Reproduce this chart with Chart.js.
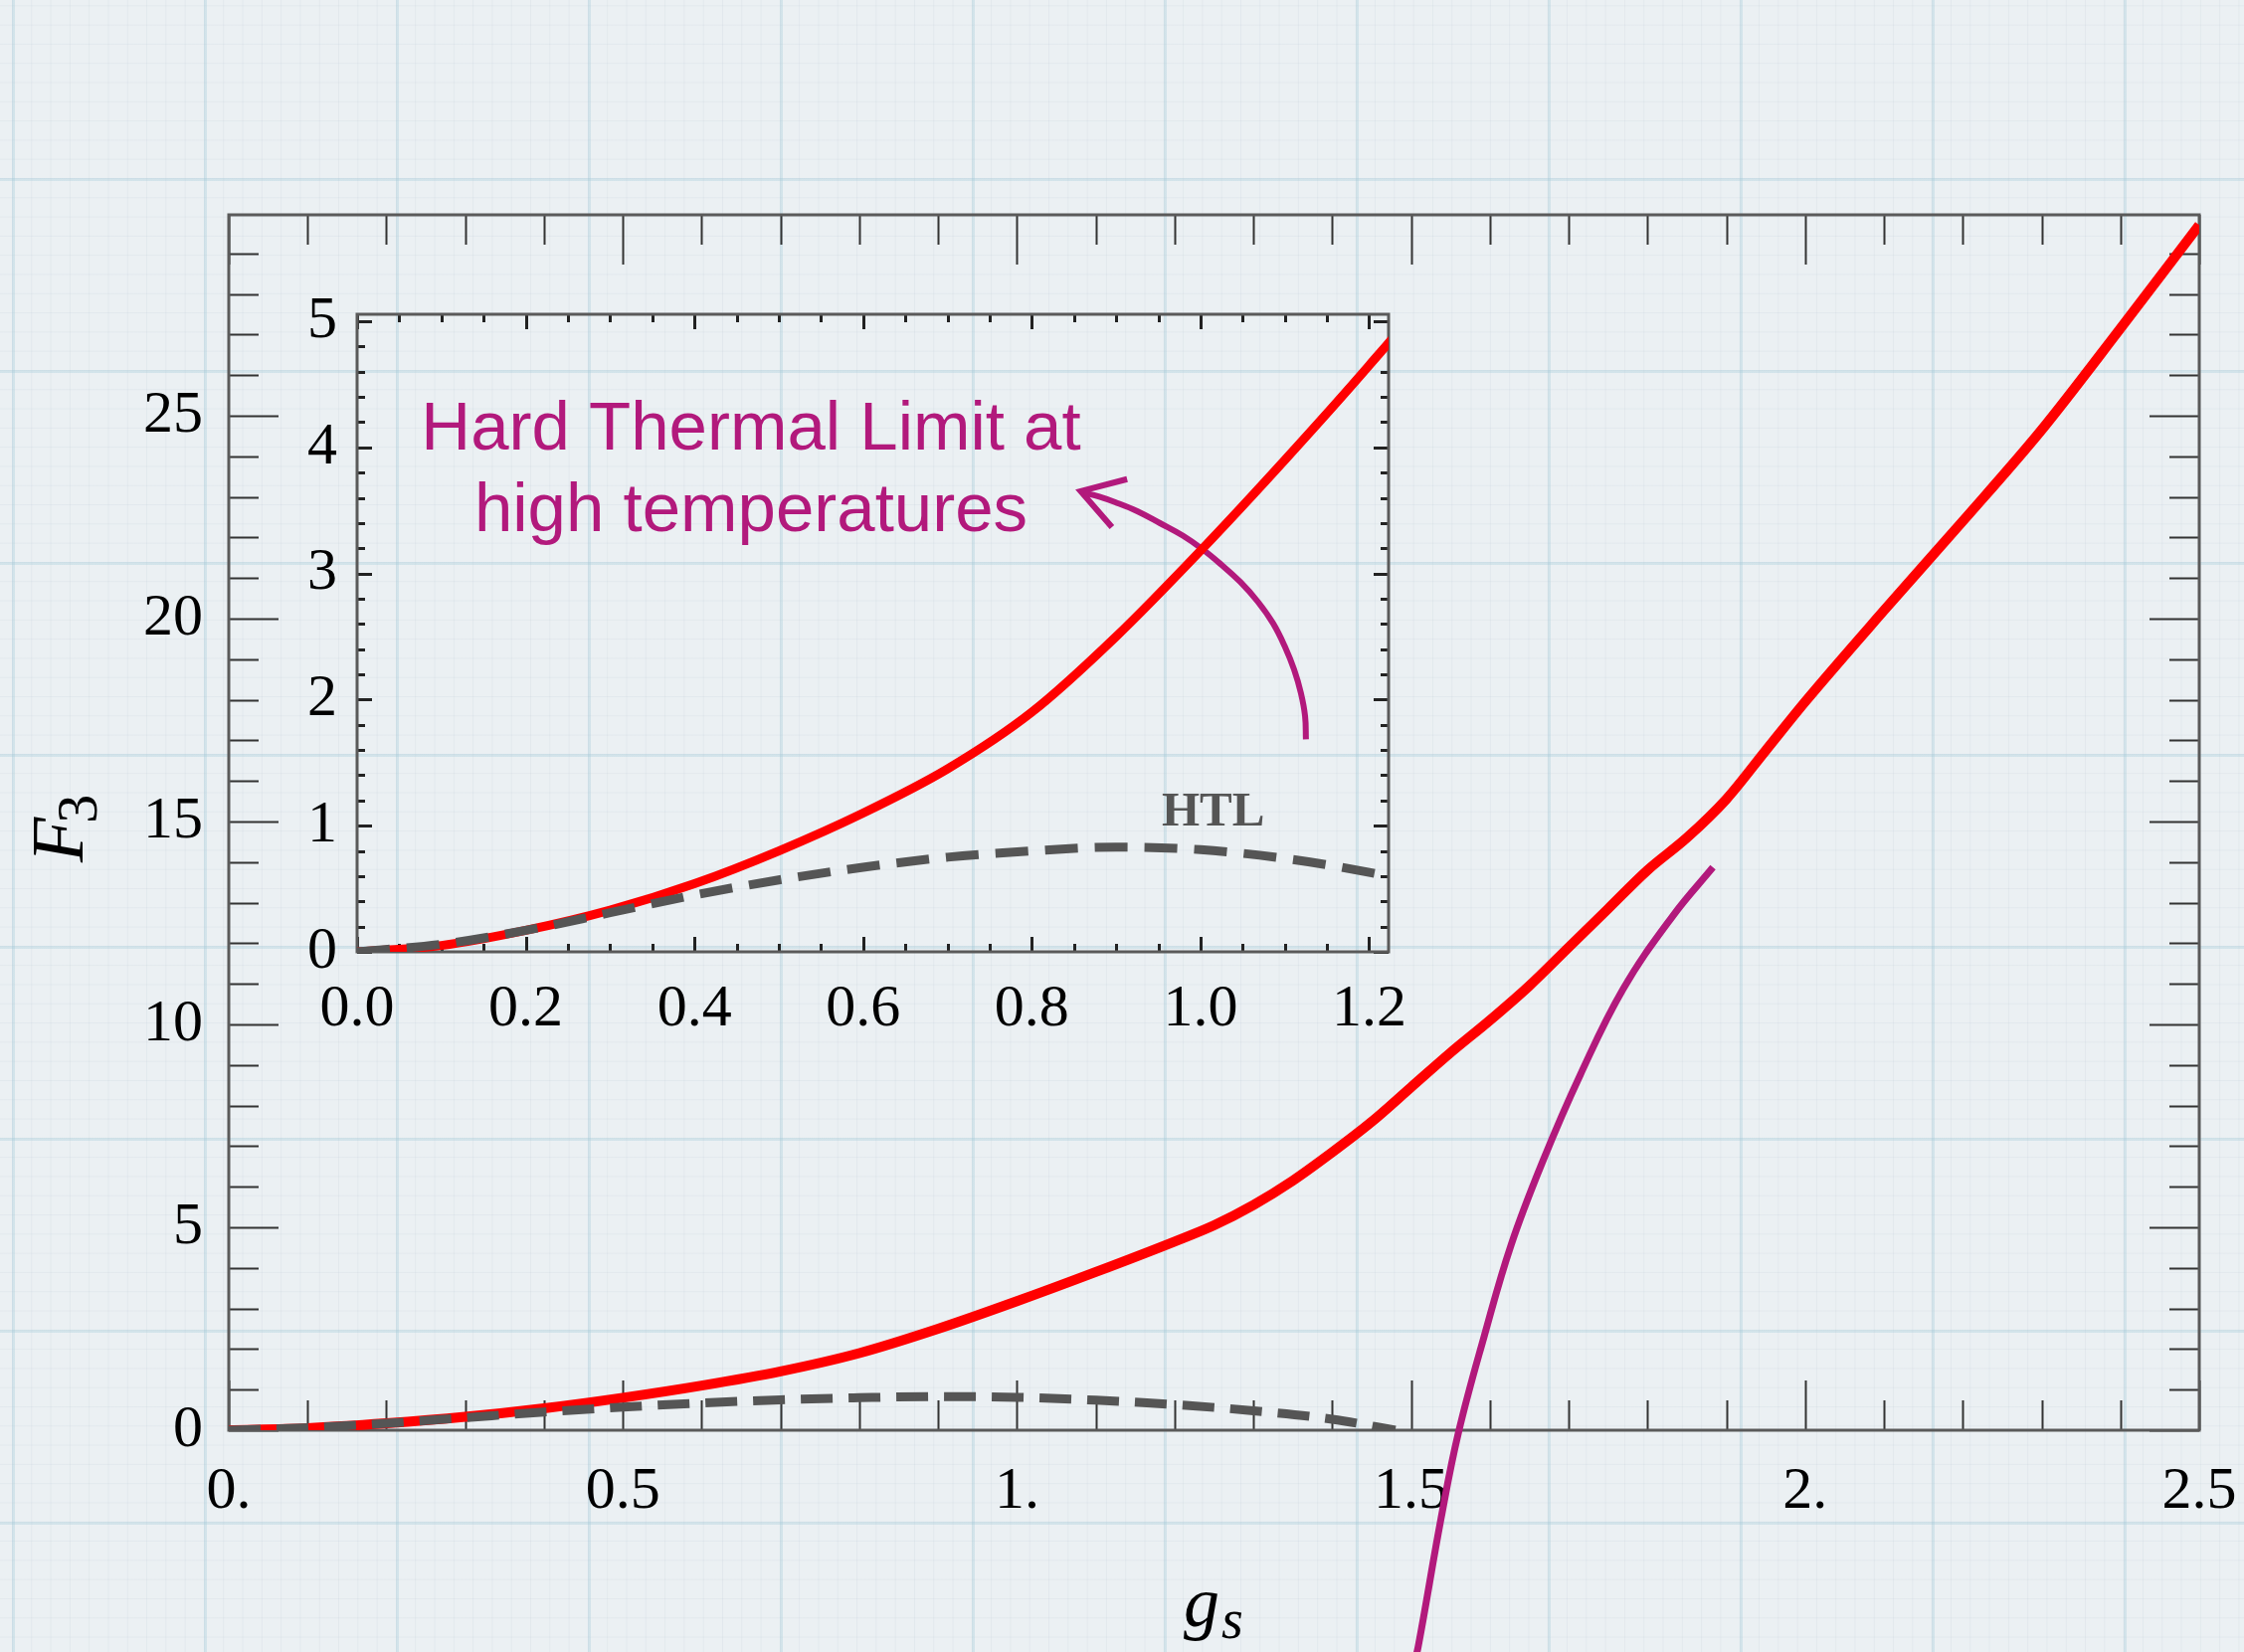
<!DOCTYPE html>
<html>
<head>
<meta charset="utf-8">
<title>F3 vs g_s</title>
<script src="https://cdn.jsdelivr.net/npm/chart.js@4.4.1/dist/chart.umd.min.js"></script>
<style>
  html, body { margin: 0; padding: 0; }
  body {
    width: 2256px; height: 1661px; overflow: hidden; position: relative;
    background-color: #ebf0f3;
    background-image:
      linear-gradient(to right, rgba(160, 200, 215, 0.32) 3px, transparent 3px),
      linear-gradient(to bottom, rgba(160, 200, 215, 0.32) 3px, transparent 3px),
      linear-gradient(to right, rgba(170, 185, 200, 0.14) 1px, transparent 1px),
      linear-gradient(to bottom, rgba(170, 185, 200, 0.14) 1px, transparent 1px);
    background-size: 193px 193px, 193px 193px, 19.3px 19.3px, 19.3px 19.3px;
    background-position: 12px 0, 0 179px, 12px 0, 0 179px;
  }
  canvas { position: absolute; left: 0; top: 0; }
</style>
</head>
<body>
<canvas id="mainChart" width="2256" height="1661"></canvas>
<canvas id="insetChart" width="2256" height="1661"></canvas>
<script>
// --- data ---
// full F3 curve (red)
const gValues = [0, 0.1, 0.2, 0.3, 0.4, 0.5, 0.6, 0.7, 0.8, 0.9, 1.0, 1.1, 1.2, 1.25, 1.3, 1.35, 1.4, 1.45,
                 1.5, 1.55, 1.6, 1.65, 1.7, 1.75, 1.8, 1.85, 1.9, 1.95, 2.0, 2.1, 2.2, 2.3, 2.4, 2.5];
const f3Values = [0, 0.05, 0.17, 0.33, 0.54, 0.8, 1.1, 1.45, 1.9, 2.5, 3.18, 3.9, 4.65, 5.05, 5.55, 6.15, 6.85, 7.6,
                  8.45, 9.3, 10.1, 10.95, 11.9, 12.85, 13.8, 14.6, 15.55, 16.75, 17.95, 20.2, 22.4, 24.65, 27.15, 29.7];

// hard thermal loop curve (grey dashed)
const gHtl = [0, 0.1, 0.2, 0.3, 0.4, 0.5, 0.6, 0.7, 0.8, 0.9, 1.0, 1.1, 1.2, 1.3, 1.4, 1.48];
const f3Htl = [0, 0.06, 0.17, 0.31, 0.45, 0.57, 0.67, 0.75, 0.8, 0.83, 0.81, 0.74, 0.63, 0.48, 0.27, 0];

// hand drawn sketch on the main plot (magenta)
const gSketch = [1.503, 1.509, 1.538, 1.560, 1.593, 1.627, 1.668, 1.715, 1.769, 1.832, 1.883];
const f3Sketch = [-5.8, -5.34, -2.18, -0.07, 2.33, 4.57, 6.67, 8.77, 10.87, 12.67, 13.87];

// hand drawn arrow inside the inset (magenta)
const gArrow = [1.125, 1.124, 1.119, 1.111, 1.100, 1.086, 1.068, 1.047, 1.025, 1.003, 0.979, 0.952, 0.925, 0.899, 0.880, 0.862];
const f3Arrow = [1.685, 1.869, 2.053, 2.237, 2.421, 2.605, 2.776, 2.934, 3.068, 3.189, 3.300, 3.399, 3.494, 3.565, 3.609, 3.64];
const gArrowHead = [0.913, 0.858, 0.895];
const f3ArrowHead = [3.748, 3.652, 3.367];

// tick labels
const mainXTicks = [0, 0.5, 1, 1.5, 2, 2.5];
const mainXLabels = ['0.', '0.5', '1.', '1.5', '2.', '2.5'];
const mainYTicks = [0, 5, 10, 15, 20, 25];
const mainYLabels = ['0', '5', '10', '15', '20', '25'];
const insetXTicks = [0, 0.2, 0.4, 0.6, 0.8, 1.0, 1.2];
const insetXLabels = ['0.0', '0.2', '0.4', '0.6', '0.8', '1.0', '1.2'];
const insetYTicks = [0, 1, 2, 3, 4, 5];
const insetYLabels = ['0', '1', '2', '3', '4', '5'];

const pts = (xs, ys) => xs.map((x, i) => ({ x: x, y: ys[i] }));

const SERIF = '"Liberation Serif", "Times New Roman", serif';
const SANS = '"Liberation Sans", Arial, sans-serif';
const MAGENTA = '#b2197c';

// frame with inward ticks on all four sides
const frameTicks = {
    id: 'frameTicks',
    beforeDatasetsDraw(chart, args, o) {
        const { ctx, chartArea: a, scales: { x, y } } = chart;
        const isMajor = (v, step) => Math.abs(v / step - Math.round(v / step)) < 1e-6;
        ctx.save();
        ctx.strokeStyle = o.tickColor;
        ctx.lineWidth = o.tickWidth;
        ctx.beginPath();
        const nx = Math.floor((x.max - x.min) / o.xMinor + 1e-6);
        for (let i = 0; i <= nx; i++) {
            const v = x.min + i * o.xMinor;
            const len = isMajor(v, o.xMajor) ? o.majorLen : o.minorLen;
            const px = Math.round(x.getPixelForValue(v)) + 0.5;
            ctx.moveTo(px, a.bottom); ctx.lineTo(px, a.bottom - len);
            ctx.moveTo(px, a.top); ctx.lineTo(px, a.top + len);
        }
        const ny = Math.floor((y.max - y.min) / o.yMinor + 1e-6);
        for (let i = 0; i <= ny; i++) {
            const v = y.min + i * o.yMinor;
            const len = isMajor(v, o.yMajor) ? o.majorLen : o.minorLen;
            const py = Math.round(y.getPixelForValue(v)) + 0.5;
            ctx.moveTo(a.left, py); ctx.lineTo(a.left + len, py);
            ctx.moveTo(a.right, py); ctx.lineTo(a.right - len, py);
        }
        ctx.stroke();
        ctx.strokeStyle = o.frameColor;
        ctx.lineWidth = o.frameWidth;
        ctx.strokeRect(a.left, a.top, a.right - a.left, a.bottom - a.top);
        ctx.restore();
    }
};

// axis titles F_3 and g_s of the main plot
const axisTitles = {
    id: 'axisTitles',
    afterDraw(chart) {
        const ctx = chart.ctx;
        ctx.save();
        ctx.fillStyle = '#000';
        ctx.textAlign = 'left';
        ctx.textBaseline = 'alphabetic';
        ctx.save();
        ctx.translate(83, 867);
        ctx.rotate(-Math.PI / 2);
        ctx.font = 'italic 74px ' + SERIF;
        ctx.fillText('F', 0, 0);
        const wF = ctx.measureText('F').width;
        ctx.font = '58px ' + SERIF;
        ctx.fillText('3', wF - 6, 14);
        ctx.restore();
        ctx.font = 'italic 72px ' + SERIF;
        ctx.fillText('g', 1190, 1635);
        const wg = ctx.measureText('g').width;
        ctx.font = 'italic 56px ' + SERIF;
        ctx.fillText('s', 1190 + wg + 2, 1647);
        ctx.restore();
    }
};

// text annotations inside the inset
const insetNotes = {
    id: 'insetNotes',
    afterDraw(chart) {
        const { ctx, scales: { x, y } } = chart;
        ctx.save();
        ctx.textAlign = 'center';
        ctx.textBaseline = 'alphabetic';
        ctx.fillStyle = MAGENTA;
        ctx.font = '69px ' + SANS;
        ctx.fillText('Hard Thermal Limit at', x.getPixelForValue(0.467), y.getPixelForValue(3.98));
        ctx.fillText('high temperatures', x.getPixelForValue(0.467), y.getPixelForValue(3.335));
        ctx.fillStyle = '#555555';
        ctx.font = 'bold 49px ' + SERIF;
        ctx.fillText('HTL', x.getPixelForValue(1.015), y.getPixelForValue(1.0));
        ctx.restore();
    }
};

const tickFont = { family: SERIF, size: 60 };

function axis(min, max, values, labels, fitSize, isX, pad) {
    return {
        type: 'linear',
        min: min,
        max: max,
        afterBuildTicks: (s) => { s.ticks = values.map(v => ({ value: v })); },
        afterFit: (s) => {
            if (isX) s.height = fitSize; else s.width = fitSize;
            // keep label overhang from shrinking the plot frame
            s.paddingLeft = 0; s.paddingRight = 0;
            s.paddingTop = 0; s.paddingBottom = 0;
        },
        ticks: {
            callback: (v, i) => labels[i],
            font: tickFont,
            color: '#000',
            padding: pad,
            maxRotation: 0,
            autoSkip: false
        },
        grid: { display: false, drawTicks: false },
        border: { display: false }
    };
}

new Chart(document.getElementById('mainChart'), {
    type: 'line',
    data: {
        datasets: [
            {
                label: 'HTL',
                data: pts(gHtl, f3Htl),
                borderColor: '#555555',
                borderWidth: 9,
                borderDash: [32, 16],
                cubicInterpolationMode: 'monotone'
            },
            {
                label: 'F3',
                data: pts(gValues, f3Values),
                borderColor: '#ff0000',
                borderWidth: 10,
                cubicInterpolationMode: 'monotone'
            },
            {
                label: 'sketch',
                data: pts(gSketch, f3Sketch),
                borderColor: MAGENTA,
                borderWidth: 7,
                tension: 0.4,
                clip: { left: 0, top: 0, right: 0, bottom: false }
            }
        ]
    },
    options: {
        responsive: false,
        animation: false,
        layout: { padding: { top: 216, right: 45, left: 0, bottom: 0 } },
        elements: { point: { radius: 0 } },
        plugins: {
            legend: { display: false },
            tooltip: { enabled: false },
            frameTicks: {
                xMinor: 0.1, xMajor: 0.5, yMinor: 1, yMajor: 5,
                minorLen: 30, majorLen: 50, tickWidth: 2, tickColor: '#333333',
                frameColor: '#5a5a5a', frameWidth: 3
            }
        },
        scales: {
            x: axis(0, 2.5, mainXTicks, mainXLabels, 223, true, 26),
            y: axis(0, 29.95, mainYTicks, mainYLabels, 230, false, 26)
        }
    },
    plugins: [frameTicks, axisTitles]
});

new Chart(document.getElementById('insetChart'), {
    type: 'line',
    data: {
        datasets: [
            {
                label: 'HTL',
                data: pts(gHtl, f3Htl),
                borderColor: '#555555',
                borderWidth: 9,
                borderDash: [33, 17],
                cubicInterpolationMode: 'monotone'
            },
            {
                label: 'F3',
                data: pts(gValues, f3Values),
                borderColor: '#ff0000',
                borderWidth: 9,
                cubicInterpolationMode: 'monotone'
            },
            {
                label: 'arrow',
                data: pts(gArrow, f3Arrow),
                borderColor: MAGENTA,
                borderWidth: 6,
                tension: 0.4
            },
            {
                label: 'arrow head',
                data: pts(gArrowHead, f3ArrowHead),
                borderColor: MAGENTA,
                borderWidth: 6,
                tension: 0
            }
        ]
    },
    options: {
        responsive: false,
        animation: false,
        layout: { padding: { top: 316, right: 860, left: 0, bottom: 0 } },
        elements: { point: { radius: 0 } },
        plugins: {
            legend: { display: false },
            tooltip: { enabled: false },
            frameTicks: {
                xMinor: 0.05, xMajor: 0.2, yMinor: 0.2, yMajor: 1,
                minorLen: 8, majorLen: 15, tickWidth: 3, tickColor: '#222222',
                frameColor: '#5a5a5a', frameWidth: 3
            }
        },
        scales: {
            x: axis(0, 1.223, insetXTicks, insetXLabels, 704, true, 22),
            y: axis(0, 5.055, insetYTicks, insetYLabels, 359, false, 20)
        }
    },
    plugins: [frameTicks, insetNotes]
});
</script>
</body>
</html>
